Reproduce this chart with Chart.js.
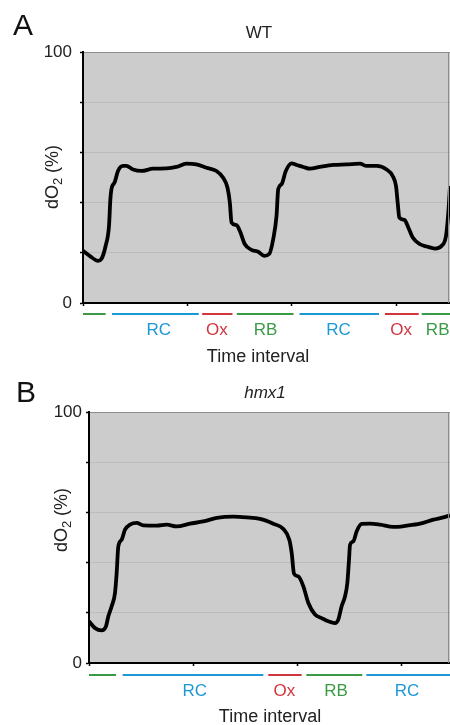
<!DOCTYPE html>
<html>
<head>
<meta charset="utf-8">
<script src="https://cdn.jsdelivr.net/npm/chart.js@4.4.1/dist/chart.umd.min.js"></script>
<style>
  body { margin: 0; background: #fff; }
  #wrap { position: relative; width: 450px; height: 725px; overflow: hidden; }
  canvas { position: absolute; left: 0; }
</style>
</head>
<body>
<div id="wrap">
  <canvas id="chartA" width="450" height="370" style="top:0"></canvas>
  <canvas id="chartB" width="450" height="355" style="top:370px"></canvas>
</div>
<script>
// WT trace (time in tick units, dO2 in %)
const wtTime = [0, 0.064, 0.144, 0.176, 0.217, 0.249, 0.262, 0.272, 0.304, 0.335, 0.383, 0.415, 0.479, 0.559, 0.671, 0.799, 0.895, 0.99, 1.086, 1.182, 1.278, 1.342, 1.383, 1.406, 1.422, 1.47, 1.502, 1.55, 1.613, 1.677, 1.735, 1.783, 1.821, 1.853, 1.869, 1.901, 1.942, 1.997, 2.045, 2.109, 2.173, 2.268, 2.396, 2.524, 2.652, 2.716, 2.812, 2.907, 2.965, 2.997, 3.013, 3.029, 3.077, 3.115, 3.157, 3.227, 3.291, 3.371, 3.435, 3.476, 3.498, 3.514];
const wtO2 = [20.8, 18.8, 16.8, 17.5, 22.8, 30.7, 41.3, 45.3, 48.2, 52.6, 54.6, 54.6, 53.2, 52.6, 53.5, 53.6, 54.2, 55.5, 55.2, 53.9, 52.6, 49.9, 46.0, 40.0, 32.1, 31.0, 28.7, 23.4, 21.2, 20.4, 18.8, 19.5, 25.4, 34.7, 45.3, 47.3, 52.6, 55.6, 55.0, 54.2, 53.5, 54.2, 55.0, 55.2, 55.5, 54.6, 54.6, 53.2, 50.6, 46.6, 40.0, 34.0, 33.1, 30.1, 26.1, 23.4, 22.5, 21.7, 22.8, 26.8, 36.0, 46.6];

// hmx1 trace
const hmxTime = [0, 0.058, 0.122, 0.163, 0.186, 0.218, 0.25, 0.266, 0.282, 0.314, 0.346, 0.394, 0.458, 0.522, 0.651, 0.747, 0.843, 0.971, 1.099, 1.228, 1.388, 1.516, 1.644, 1.772, 1.869, 1.926, 1.949, 1.971, 2.013, 2.061, 2.109, 2.173, 2.237, 2.301, 2.365, 2.397, 2.429, 2.462, 2.484, 2.5, 2.51, 2.542, 2.574, 2.622, 2.702, 2.798, 2.926, 3.054, 3.183, 3.311, 3.407, 3.471];
const hmxO2 = [16.6, 13.9, 13.0, 14.6, 18.6, 22.6, 27.9, 35.9, 46.5, 49.1, 53.1, 55.1, 55.8, 54.8, 54.7, 55.1, 54.4, 55.5, 56.4, 57.8, 58.3, 58.0, 57.4, 55.5, 53.4, 49.1, 43.8, 35.6, 34.5, 30.5, 23.9, 19.3, 17.9, 16.6, 15.9, 17.3, 22.6, 26.6, 31.9, 41.2, 47.1, 48.5, 52.5, 55.4, 55.5, 55.1, 54.2, 54.7, 55.5, 57.1, 58.0, 58.8];

// treatment intervals under the x axis
const wtSegStart = [0, 0.278, 1.141, 1.473, 2.073, 2.891, 3.243];
const wtSegEnd = [0.217, 1.109, 1.431, 2.016, 2.834, 3.214, 3.514];
const wtSegName = ['', 'RC', 'Ox', 'RB', 'RC', 'Ox', 'RB'];
const wtLabelX = [null, 0.725, 1.281, 1.748, 2.447, 3.045, 3.396];

const hmxSegStart = [0, 0.324, 1.724, 2.09, 2.667];
const hmxSegEnd = [0.26, 1.676, 2.045, 2.628, 3.471];
const hmxSegName = ['', 'RC', 'Ox', 'RB', 'RC'];
const hmxLabelX = [null, 1.016, 1.878, 2.375, 3.058];

const yTicks = [0, 100];

const colors = { RC: '#1b98d6', Ox: '#d1363e', RB: '#3b9a46', '': '#3b9a46' };
const FONT = '"Liberation Sans", Arial, Helvetica, sans-serif';

function makeChart(id, cfg) {
  const pts = cfg.time.map((t, i) => ({ x: t, y: cfg.o2[i] }));

  const decor = {
    id: 'decor',
    beforeDraw(chart) {
      const a = chart.chartArea, c = chart.ctx;
      c.save();
      c.fillStyle = '#cccccc';
      c.fillRect(a.left, a.top, a.right - a.left, a.bottom - a.top);
      c.restore();
    },
    afterDraw(chart) {
      const a = chart.chartArea, c = chart.ctx, xs = chart.scales.x;
      c.save();
      // right border
      c.strokeStyle = '#8c8c8c';
      c.lineWidth = 1;
      c.beginPath();
      c.moveTo(a.right - 1.5, a.top);
      c.lineTo(a.right - 1.5, a.bottom);
      c.stroke();

      // interval bars + labels
      c.lineWidth = 2;
      c.font = '17px ' + FONT;
      c.textAlign = 'center';
      c.textBaseline = 'middle';
      cfg.segStart.forEach((s, i) => {
        const col = colors[cfg.segName[i]];
        c.strokeStyle = col;
        c.beginPath();
        c.moveTo(xs.getPixelForValue(s), a.bottom + cfg.barGap);
        c.lineTo(xs.getPixelForValue(cfg.segEnd[i]), a.bottom + cfg.barGap);
        c.stroke();
        if (cfg.segName[i]) {
          c.fillStyle = col;
          c.fillText(cfg.segName[i], xs.getPixelForValue(cfg.labelX[i]), a.bottom + cfg.barGap + 16);
        }
      });

      c.fillStyle = '#222';
      c.font = '18px ' + FONT;
      c.fillText('Time interval', cfg.xTitleX, a.bottom + 54);

      // panel title and letter
      c.font = (cfg.italic ? 'italic ' : '') + '17px ' + FONT;
      c.fillText(cfg.title, cfg.titleX, cfg.titleY);
      c.fillStyle = '#111';
      c.font = '30px ' + FONT;
      c.fillText(cfg.letter, cfg.letterX, cfg.letterY);

      // rotated y title with subscript
      c.translate(cfg.yTitleX, cfg.yTitleY);
      c.rotate(-Math.PI / 2);
      c.fillStyle = '#222';
      c.textAlign = 'left';
      c.textBaseline = 'middle';
      const big = '18px ' + FONT, small = '13px ' + FONT;
      c.font = big; const w1 = c.measureText('dO').width; const w3 = c.measureText(' (%)').width;
      c.font = small; const w2 = c.measureText('2').width;
      let x0 = -(w1 + w2 + w3) / 2;
      c.font = big; c.fillText('dO', x0, 0);
      c.font = small; c.fillText('2', x0 + w1, 5);
      c.font = big; c.fillText(' (%)', x0 + w1 + w2, 0);
      c.restore();
    }
  };

  return new Chart(document.getElementById(id), {
    type: 'line',
    data: {
      datasets: [{
        data: pts,
        borderColor: '#000',
        borderWidth: 3.8,
        pointRadius: 0,
        cubicInterpolationMode: 'monotone',
        fill: false
      }]
    },
    options: {
      responsive: false,
      animation: false,
      events: [],
      layout: { padding: { left: 0, right: 0, top: cfg.top, bottom: 0 } },
      plugins: { legend: { display: false }, tooltip: { enabled: false } },
      scales: {
        x: {
          type: 'linear',
          min: 0,
          max: cfg.xMax,
          afterFit: s => { s.height = cfg.height - cfg.bottom; },
          ticks: { stepSize: 1, includeBounds: false, display: false },
          grid: { drawOnChartArea: false, drawTicks: true, tickLength: 3, tickColor: '#000', tickWidth: 1.5 },
          border: { color: '#000', width: 2 }
        },
        y: {
          min: 0,
          max: 100,
          afterFit: s => { s.width = cfg.left; },
          ticks: {
            stepSize: 20,
            padding: cfg.tickPad,
            color: '#222',
            font: { family: FONT, size: 17 },
            callback: v => yTicks.includes(v) ? String(v) : ''
          },
          grid: {
            tickLength: 3,
            tickColor: '#000',
            tickWidth: 1.5,
            color: ctx => ctx.tick.value === 100 ? '#8c8c8c' : (ctx.tick.value === 0 ? 'rgba(0,0,0,0)' : '#bcbcbc'),
            lineWidth: 1
          },
          border: { color: '#000', width: 2 }
        }
      }
    },
    plugins: [decor]
  });
}

makeChart('chartA', {
  time: wtTime, o2: wtO2, xMax: 3.514,
  segStart: wtSegStart, segEnd: wtSegEnd, segName: wtSegName, labelX: wtLabelX,
  height: 370, top: 52, bottom: 303, left: 83, tickPad: 8,
  barGap: 11, xTitleX: 258,
  title: 'WT', italic: false, titleX: 259, titleY: 33,
  letter: 'A', letterX: 23, letterY: 27,
  yTitleX: 53, yTitleY: 177
});

makeChart('chartB', {
  time: hmxTime, o2: hmxO2, xMax: 3.471,
  segStart: hmxSegStart, segEnd: hmxSegEnd, segName: hmxSegName, labelX: hmxLabelX,
  height: 355, top: 42, bottom: 293, left: 89, tickPad: 4,
  barGap: 12, xTitleX: 270,
  title: 'hmx1', italic: true, titleX: 265, titleY: 23,
  letter: 'B', letterX: 26, letterY: 24,
  yTitleX: 62, yTitleY: 150
});
</script>
</body>
</html>
